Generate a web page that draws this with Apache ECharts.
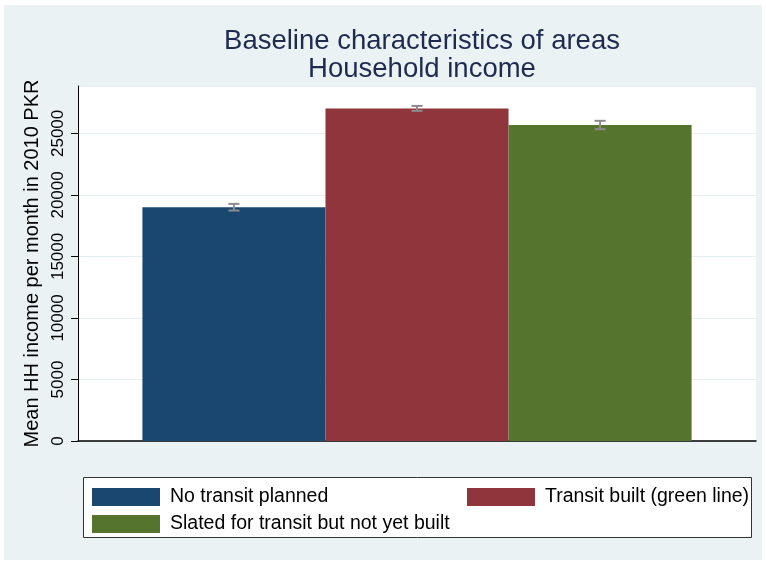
<!DOCTYPE html>
<html>
<head>
<meta charset="utf-8">
<script src="https://cdn.jsdelivr.net/npm/echarts@6/dist/echarts.min.js"></script>
<style>
html,body{margin:0;padding:0;background:#fff;}
#chart{width:766px;height:565px;}
</style>
</head>
<body>
<div id="chart"></div>
<script>
// Data
const groupNames = ['No transit planned', 'Transit built (green line)', 'Slated for transit but not yet built'];
const meanIncome = [19000, 27030, 25680];
const ciLow = [18730, 26830, 25340];
const ciHigh = [19270, 27230, 26020];
const yTicks = [0, 5000, 10000, 15000, 20000, 25000];
const colors = ['#1a476f', '#90353b', '#55752f'];

const FONT = 'Liberation Sans, Arial, sans-serif';
const chart = echarts.init(document.getElementById('chart'), null, {renderer: 'canvas'});

const GAP = 0.19;
const barSeries = groupNames.map((name, i) => ({
  name: name,
  type: 'bar',
  data: [meanIncome[i]],
  barGap: '0%',
  barCategoryGap: (GAP * 100) + '%',
  itemStyle: {color: colors[i], borderWidth: 0},
  emphasis: {disabled: true},
  z: 2
}));

const errData = groupNames.map((n, i) => [0, ciLow[i], ciHigh[i], i]);

const legendPos = [
  {left: 92, top: 487},
  {left: 467, top: 487},
  {left: 92, top: 514}
];

const option = {
  backgroundColor: '#ffffff',
  animation: false,
  graphic: [
    {type: 'rect', shape: {x: 4, y: 5, width: 758, height: 555}, style: {fill: '#eaf2f3'}, z: -10, silent: true},
    {type: 'rect', shape: {x: 83.5, y: 477.5, width: 668, height: 60}, style: {fill: '#ffffff', stroke: '#333333', lineWidth: 1}, z: -5, silent: true}
  ],
  title: {
    text: 'Baseline characteristics of areas\nHousehold income',
    left: 417,
    top: 22,
    textAlign: 'center',
    textStyle: {fontFamily: FONT, fontSize: 27.5, fontWeight: 'normal', color: '#1e2b4f', lineHeight: 28}
  },
  grid: {left: 78, right: 10, top: 86, bottom: 124, show: true, backgroundColor: '#ffffff', borderWidth: 0},
  legend: legendPos.map((p, i) => ({
    data: [groupNames[i]],
    left: p.left,
    top: p.top,
    itemWidth: 68,
    itemHeight: 18,
    padding: 0,
    icon: 'rect',
    selectedMode: false,
    textStyle: {fontFamily: FONT, fontSize: 19.5, color: '#000', padding: [0, 0, 0, 5]}
  })),
  xAxis: {
    type: 'category',
    data: [''],
    axisLine: {show: true, lineStyle: {color: '#000', width: 1.5}},
    axisTick: {show: false},
    axisLabel: {show: false}
  },
  yAxis: {
    type: 'value',
    min: 0,
    max: 28850,
    interval: 5000,
    name: 'Mean HH income per month in 2010 PKR',
    nameLocation: 'middle',
    nameRotate: 90,
    nameGap: 30,
    nameTextStyle: {fontFamily: FONT, fontSize: 20, color: '#000'},
    axisLine: {show: true, lineStyle: {color: '#000', width: 1}},
    axisTick: {show: true, length: 7, lineStyle: {color: '#000'}},
    axisLabel: {
      rotate: 90,
      margin: 11,
      fontFamily: FONT,
      fontSize: 17,
      color: '#000',
      showMaxLabel: false,
      formatter: v => (yTicks.indexOf(v) >= 0 ? String(v) : '')
    },
    splitLine: {show: true, lineStyle: {color: '#e6eef1', width: 1}}
  },
  series: barSeries.concat([{
    type: 'custom',
    name: 'ci',
    data: errData,
    z: 5,
    silent: true,
    encode: {x: 0, y: [1, 2]},
    renderItem: function (params, api) {
      const cat = api.value(0);
      const idx = api.value(3);
      const lo = api.coord([cat, api.value(1)]);
      const hi = api.coord([cat, api.value(2)]);
      const band = api.size([1, 0])[0];
      const bw = band * (1 - GAP) / 3;
      const x = lo[0] + (idx - 1) * bw;
      const cap = 5.5;
      const st = {stroke: '#8c8c8c', lineWidth: 2};
      return {
        type: 'group',
        children: [
          {type: 'line', shape: {x1: x, y1: lo[1], x2: x, y2: hi[1]}, style: st},
          {type: 'line', shape: {x1: x - cap, y1: lo[1], x2: x + cap, y2: lo[1]}, style: st},
          {type: 'line', shape: {x1: x - cap, y1: hi[1], x2: x + cap, y2: hi[1]}, style: st}
        ]
      };
    }
  }])
};
chart.setOption(option);
</script>
</body>
</html>
